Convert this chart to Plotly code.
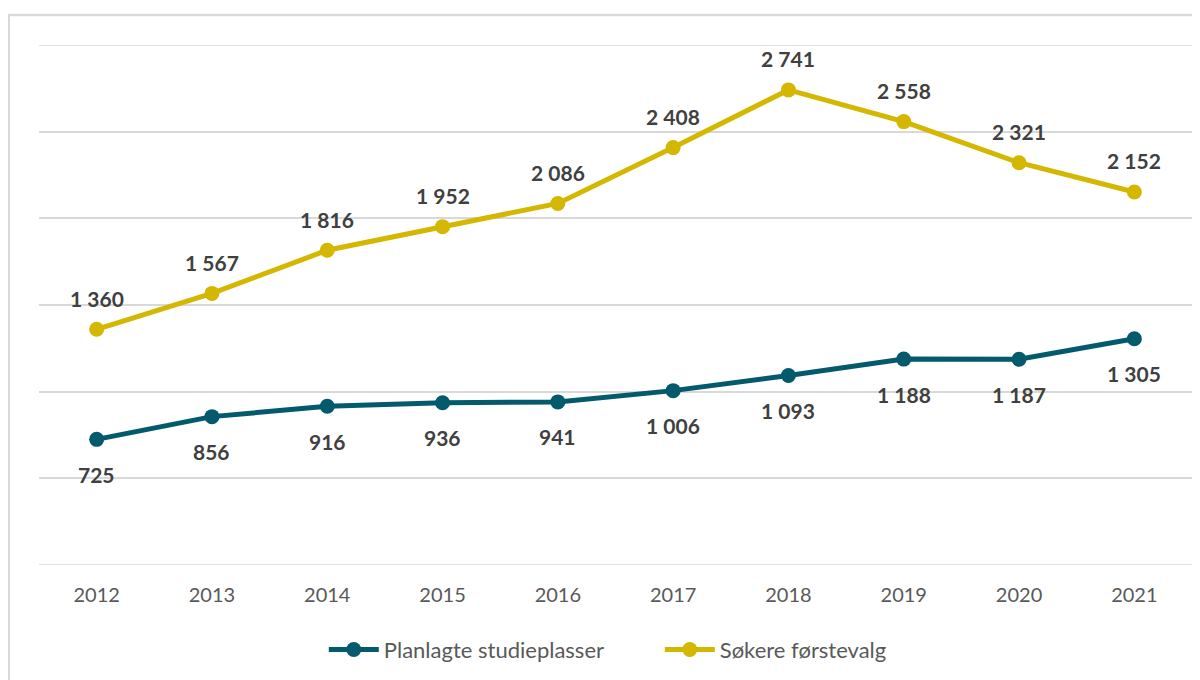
import plotly.graph_objects as go

years = ["2012", "2013", "2014", "2015", "2016", "2017", "2018", "2019", "2020", "2021"]
planlagte = [725, 856, 916, 936, 941, 1006, 1093, 1188, 1187, 1305]
sokere = [1360, 1567, 1816, 1952, 2086, 2408, 2741, 2558, 2321, 2152]
y_edges = [0, 3000]

teal = "#045a6d"
gold = "#d3b700"
FONT = "Lato"

def fmt(v):
    return f"{v:,}".replace(",", " ")

fig = go.Figure()
fig.add_trace(go.Scatter(x=years, y=planlagte, name="Planlagte studieplasser",
                         mode="lines+markers", line=dict(color=teal, width=5),
                         marker=dict(size=15, color=teal)))
fig.add_trace(go.Scatter(x=years, y=sokere, name="Søkere førstevalg",
                         mode="lines+markers", line=dict(color=gold, width=5),
                         marker=dict(size=15, color=gold)))

ann = []
for i, v in enumerate(sokere):
    ann.append(dict(x=i, y=v, text="<b>" + fmt(v) + "</b>", showarrow=False, yshift=31,
                    xanchor="center", font=dict(family=FONT, size=21, color="#404040")))
for i, v in enumerate(planlagte):
    ann.append(dict(x=i, y=v, text="<b>" + fmt(v) + "</b>", showarrow=False, yshift=-35,
                    xanchor="center", font=dict(family=FONT, size=21, color="#404040")))

shapes = [dict(type="rect", xref="paper", yref="paper", x0=-0.0262, x1=1.05,
               y0=-0.4, y1=1.0577, line=dict(color="#d9d9d9", width=2.5), layer="below")]
for yv in y_edges:
    shapes.append(dict(type="line", xref="paper", yref="y", x0=0, x1=1, y0=yv, y1=yv,
                       line=dict(color="#d9d9d9", width=1.5), layer="below"))

# page body has an 8px margin, so the figure is offset by 8px
fig.update_layout(
    width=1192, height=672,
    margin=dict(l=31, r=8, t=37, b=115),
    paper_bgcolor="white", plot_bgcolor="white",
    font=dict(family=FONT, size=20, color="#595959"),
    showlegend=True,
    legend=dict(orientation="h", x=0.247, xanchor="left", y=-0.163, yanchor="middle",
                font=dict(family=FONT, size=22, color="#595959"), itemwidth=50,
                entrywidth=271, entrywidthmode="pixels"),
    annotations=ann,
    shapes=shapes,
)
fig.update_xaxes(type="category", range=[-0.5, len(years) - 0.5], autorange=False,
                 showgrid=False, showline=False, zeroline=False,
                 ticks="outside", ticklen=12, tickcolor="rgba(0,0,0,0)",
                 tickfont=dict(family=FONT, size=20, color="#595959"))
fig.update_yaxes(range=[0, 3000], autorange=False, tick0=0, dtick=500, showgrid=True,
                 gridcolor="#d9d9d9", gridwidth=1.5, zeroline=False,
                 showticklabels=False, showline=False)

fig.write_html("out.html")
